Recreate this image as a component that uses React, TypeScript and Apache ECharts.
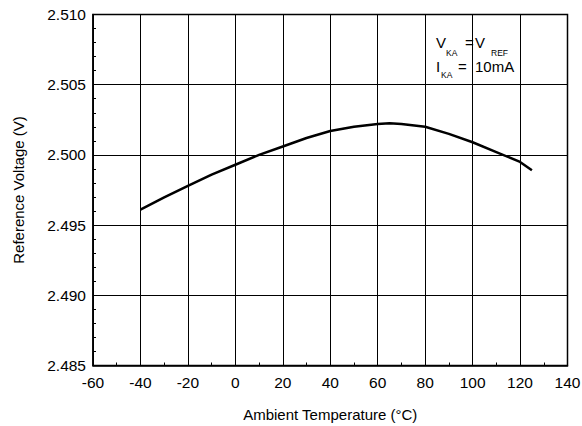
import React, { useEffect, useRef } from "react";
import * as echarts from "echarts";

const temperatures = [-40, -30, -20, -10, 0, 10, 20, 30, 40, 50, 60, 65, 70, 80, 90, 100, 110, 120, 125];
const referenceVoltage = [
  2.4961, 2.49697, 2.4978, 2.4986, 2.4993, 2.5, 2.5006, 2.5012, 2.5017, 2.502, 2.5022, 2.50225, 2.5022,
  2.502, 2.5015, 2.5009, 2.5002, 2.4995, 2.4989,
];
const xTitle = "Ambient Temperature (°C)";
const yTitle = "Reference Voltage (V)";

const FONT = "'Liberation Sans', Arial, Helvetica, sans-serif";

export default function App() {
  const ref = useRef<HTMLDivElement>(null);
  useEffect(() => {
    document.body.style.margin = "0";
    if (!ref.current) return;
    const chart = echarts.init(ref.current, undefined, { renderer: "svg" });
    const data = temperatures.map((t, i) => [t, referenceVoltage[i]]);
    const txt = (text: string, x: number, y: number, size: number) => ({
      type: "text",
      x,
      y,
      style: {
        text,
        fill: "#000",
        font: `${size}px ${FONT}`,
        textAlign: "left",
        textVerticalAlign: "middle",
      },
      z: 10,
    });
    chart.setOption({
      animation: false,
      backgroundColor: "#fff",
      textStyle: { fontFamily: FONT },
      grid: {
        left: 93,
        right: 14.5,
        top: 14.5,
        bottom: 60.5,
        show: true,
        borderColor: "#000",
        borderWidth: 1.5,
        containLabel: false,
        outerBoundsMode: "none",
      },
      xAxis: {
        type: "value",
        min: -60,
        max: 140,
        interval: 20,
        name: xTitle,
        nameLocation: "middle",
        nameGap: 41,
        nameTextStyle: { color: "#000", fontSize: 15, fontFamily: FONT },
        axisLine: { show: true, onZero: false, lineStyle: { color: "#000", width: 1.5 } },
        axisTick: { show: true, inside: true, length: 3, lineStyle: { color: "#000" } },
        minorTick: { show: true, splitNumber: 2, length: 3, lineStyle: { color: "#000", width: 1 } },
        axisLabel: { color: "#000", fontSize: 15.5, margin: 9, fontFamily: FONT },
        splitLine: { show: true, lineStyle: { color: "#000", width: 1 } },
      },
      yAxis: {
        type: "value",
        min: 2.485,
        max: 2.51,
        interval: 0.005,
        name: yTitle,
        nameLocation: "middle",
        nameRotate: 90,
        nameGap: 67,
        nameTextStyle: { color: "#000", fontSize: 15, fontFamily: FONT },
        axisLine: { show: true, onZero: false, lineStyle: { color: "#000", width: 1.5 } },
        axisTick: { show: true, inside: true, length: 3, lineStyle: { color: "#000" } },
        minorTick: { show: true, splitNumber: 5, length: 3, lineStyle: { color: "#000", width: 1 } },
        axisLabel: {
          color: "#000",
          fontSize: 15.5,
          margin: 7,
          fontFamily: FONT,
          formatter: (v: number) => v.toFixed(3),
        },
        splitLine: { show: true, lineStyle: { color: "#000", width: 1 } },
      },
      series: [
        {
          type: "line",
          data,
          showSymbol: false,
          symbol: "none",
          lineStyle: { color: "#000", width: 2.5 },
          z: 5,
        },
      ],
      graphic: [
        txt("V", 436, 42, 15),
        txt("KA", 446, 53, 8.5),
        txt("=", 465, 42, 15),
        txt("V", 475, 42, 15),
        txt("REF", 491, 53, 8.5),
        txt("I", 436, 66.5, 15),
        txt("KA", 441, 75, 8.5),
        txt("=", 458, 66.5, 15),
        txt("10mA", 475, 66.5, 15),
      ],
    });
    return () => chart.dispose();
  }, []);
  return <div ref={ref} style={{ width: 582, height: 426 }} />;
}
